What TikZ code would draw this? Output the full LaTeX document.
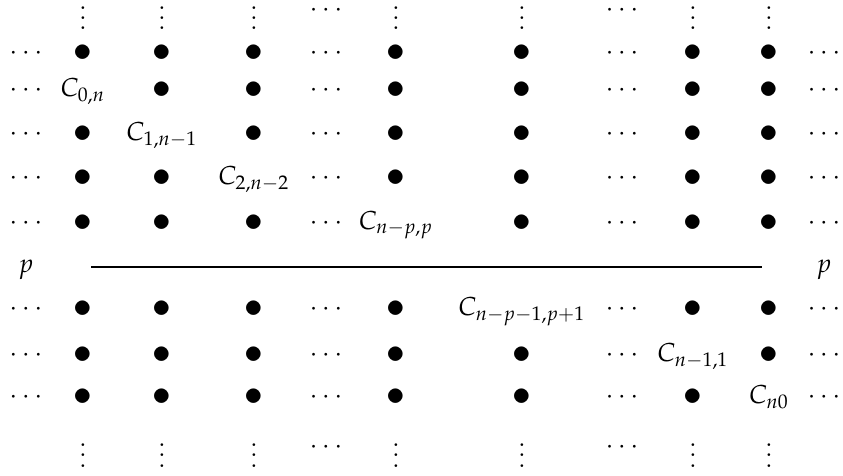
\documentclass[tikz,border=0pt]{standalone}
\usepackage{mathpazo}
\usepackage{graphicx}
\newcommand\bigdot{\mathord{\vcenter{\hbox{\scalebox{1.38}{$\bullet$}}}}}
\newcommand\tightvdots{\vbox{\baselineskip4pt\lineskiplimit0pt\hbox{.}\hbox{.}\hbox{.}}}
\begin{document}
\begin{tikzpicture}[x=0.3846pt,y=-0.3846pt]
\useasboundingbox (0,0) rectangle (843,475);
\tikzset{cell/.style={inner sep=0pt,anchor=base},
  rule/.style={line width=0.75pt}}
\def\xs{{26,83,162,254,326,396,522,622,693,769,824}}
\newcommand\gridrow[3]{%
  \foreach \t [count=\c from 0] in {#3} {%
    \pgfmathsetmacro\xx{\xs[\c]}%
    \node[cell] (r#1c\c) at (\xx,#2) {$\t$};}}
% top row of vertical dots
\foreach \c/\t/\b in {1/\tightvdots/30,2/\tightvdots/30,3/\tightvdots/30,4/\cdots/16.5,5/\tightvdots/30,6/\tightvdots/30,7/\cdots/16.5,8/\tightvdots/30,9/\tightvdots/30}{
  \pgfmathsetmacro\xx{\xs[\c]}
  \node[cell] (r0c\c) at (\xx,\b) {$\t$};}
\gridrow{1}{59.5}{\cdots,\bigdot,\bigdot,\bigdot,\cdots,\bigdot,\bigdot,\cdots,\bigdot,\bigdot,\cdots}
\gridrow{2}{96.5}{\cdots,{C_{0,n}},\bigdot,\bigdot,\cdots,\bigdot,\bigdot,\cdots,\bigdot,\bigdot,\cdots}
\gridrow{3}{140.5}{\cdots,\bigdot,{C_{1,n-1}},\bigdot,\cdots,\bigdot,\bigdot,\cdots,\bigdot,\bigdot,\cdots}
\gridrow{4}{184.5}{\cdots,\bigdot,\bigdot,{C_{2,n-2}},\cdots,\bigdot,\bigdot,\cdots,\bigdot,\bigdot,\cdots}
\gridrow{5}{229.5}{\cdots,\bigdot,\bigdot,\bigdot,\cdots,{C_{n-p,p}},\bigdot,\cdots,\bigdot,\bigdot,\cdots}
% separator
\node[cell] (pl) at (26,272) {$p$};
\node[cell] (pr) at (824,272) {$p$};
\coordinate (L) at (91,267);
\coordinate (R) at (762,267);
\draw[rule] (L) -- (R);
\gridrow{6}{315.5}{\cdots,\bigdot,\bigdot,\bigdot,\cdots,\bigdot,{C_{n-p-1,p+1}},\cdots,\bigdot,\bigdot,\cdots}
\gridrow{7}{361.5}{\cdots,\bigdot,\bigdot,\bigdot,\cdots,\bigdot,\bigdot,\cdots,{C_{n-1,1}},\bigdot,\cdots}
\gridrow{8}{403.5}{\cdots,\bigdot,\bigdot,\bigdot,\cdots,\bigdot,\bigdot,\cdots,\bigdot,{C_{n0}},\cdots}
% bottom row of vertical dots
\foreach \c/\t/\b in {1/\tightvdots/467,2/\tightvdots/467,3/\tightvdots/467,4/\cdots/453.5,5/\tightvdots/467,6/\tightvdots/467,7/\cdots/453.5,8/\tightvdots/467,9/\tightvdots/467}{
  \pgfmathsetmacro\xx{\xs[\c]}
  \node[cell] (r9c\c) at (\xx,\b) {$\t$};}
\end{tikzpicture}
\end{document}
